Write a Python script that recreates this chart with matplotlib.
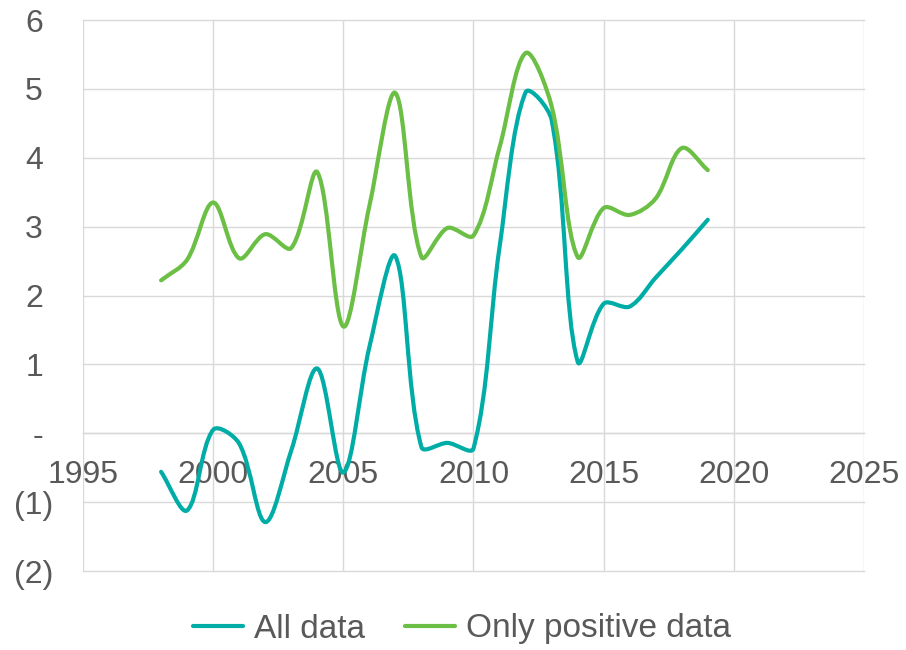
import matplotlib
matplotlib.use("Agg")
import matplotlib.pyplot as plt
import matplotlib.transforms as mtransforms
from matplotlib.path import Path
from matplotlib.patches import PathPatch
from matplotlib.lines import Line2D
import numpy as np

plt.rcParams["font.family"] = ["Liberation Sans", "DejaVu Sans"]

# Series data
years = list(range(1998, 2020))
all_data = [-0.56, -1.12, 0.05, -0.15, -1.29, -0.25, 0.94, -0.57, 1.25, 2.57,
            -0.20, -0.14, -0.22, 2.70, 4.95, 4.55, 1.04, 1.88, 1.84, 2.26,
            2.67, 3.10]
only_positive = [2.22, 2.52, 3.35, 2.54, 2.89, 2.69, 3.79, 1.55, 3.30, 4.94,
                 2.56, 2.98, 2.87, 4.15, 5.52, 4.75, 2.56, 3.27, 3.17, 3.41,
                 4.14, 3.82]
series_names = ["All data", "Only positive data"]
series_colors = ["#00ADA6", "#6BBF45"]

x_ticks = [1995, 2000, 2005, 2010, 2015, 2020, 2025]
y_ticks = [-2, -1, 0, 1, 2, 3, 4, 5, 6]
y_tick_labels = ["(2)", "(1)", "-", "1", "2", "3", "4", "5", "6"]

TEXT = "#595959"
GRID = "#d9d9d9"


def smooth_path(ax, xs, ys):
    """Smoothed curve through the points as cubic Bezier segments.

    Tangents are taken in display space; each control arm is scaled by the
    length of the segment it belongs to, which keeps steep drops from
    overshooting.
    """
    data = np.column_stack([xs, ys]).astype(float)
    pts = ax.transData.transform(data)
    n = len(pts)
    seg = np.linalg.norm(np.diff(pts, axis=0), axis=1)
    arms_in = [np.zeros(2)] * n
    arms_out = [np.zeros(2)] * n
    for i in range(n):
        if i == 0:
            t = pts[1] - pts[0]
            arms_out[i] = t / 3.0
            continue
        if i == n - 1:
            t = pts[-1] - pts[-2]
            arms_in[i] = t / 3.0
            continue
        t = pts[i + 1] - pts[i - 1]
        d_in, d_out = seg[i - 1], seg[i]
        arms_in[i] = t * d_in / (3.0 * (d_in + d_out))
        arms_out[i] = t * d_out / (3.0 * (d_in + d_out))
    verts = [pts[0]]
    codes = [Path.MOVETO]
    for i in range(n - 1):
        verts += [pts[i] + arms_out[i], pts[i + 1] - arms_in[i + 1], pts[i + 1]]
        codes += [Path.CURVE4] * 3
    verts = ax.transData.inverted().transform(np.array(verts))
    return Path(verts, codes)


fig = plt.figure(figsize=(9.06, 6.5), dpi=100)
ax = fig.add_axes([83 / 906, 1 - 571 / 650, (864 - 83) / 906, (571 - 20) / 650])
ax.set_xlim(1995, 2025)
ax.set_ylim(-2, 6)

for vals, color in zip([all_data, only_positive], series_colors):
    patch = PathPatch(smooth_path(ax, years, vals), facecolor="none",
                      edgecolor=color, lw=3.0, capstyle="round",
                      joinstyle="round", zorder=3)
    ax.add_patch(patch)

ax.set_xticks(x_ticks)
ax.set_yticks(y_ticks)
ax.set_yticklabels([])

# y labels: accounting style, non-negative values padded by the width of ")"
ytrans = mtransforms.blended_transform_factory(ax.transAxes, ax.transData)
for v, lab in zip(y_ticks, y_tick_labels):
    shift = -30 if v < 0 else -40
    tr = ytrans + mtransforms.ScaledTranslation(shift / 100, 0, fig.dpi_scale_trans)
    ax.text(0, v, lab, transform=tr, ha="right", va="center_baseline",
            fontsize=23, color=TEXT)

ax.grid(True, color=GRID, lw=1.0)
ax.set_axisbelow(True)
for gl in ax.get_xgridlines() + ax.get_ygridlines():
    gl.set_clip_on(False)

for side in ["left", "top", "right"]:
    ax.spines[side].set_visible(False)
ax.spines["bottom"].set_position(("data", 0))
ax.spines["bottom"].set_color(GRID)
ax.spines["bottom"].set_linewidth(1.0)

ax.tick_params(axis="x", length=0, pad=19, labelsize=23, labelcolor=TEXT)
ax.tick_params(axis="y", length=0)

handles = [Line2D([0], [0], color=c, lw=3.0, solid_capstyle="round")
           for c in series_colors]
fig.legend(handles, series_names, loc="center",
           bbox_to_anchor=(462 / 906, 1 - 629 / 650), ncol=2, frameon=False,
           fontsize=24, labelcolor=TEXT, handlelength=1.5,
           handletextpad=0.33, columnspacing=1.2)

fig.savefig("out.png", dpi=100)
